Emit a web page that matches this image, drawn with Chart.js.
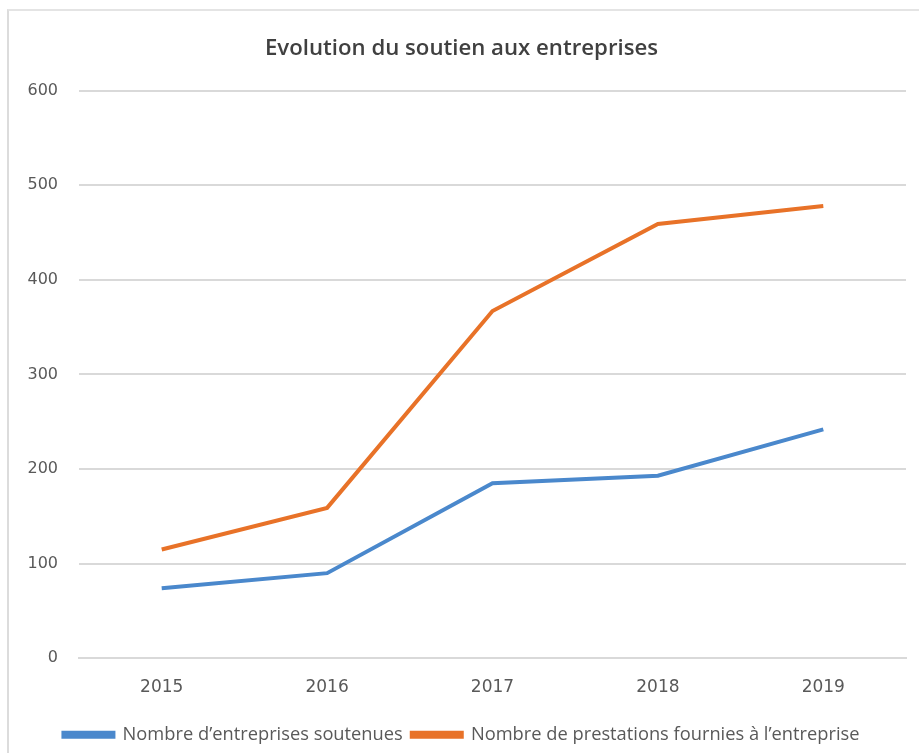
<!DOCTYPE html>
<html>
<head>
<meta charset="utf-8">
<script src="https://cdn.jsdelivr.net/npm/chart.js@4"></script>
<style>
  html, body { margin: 0; padding: 0; background: #fff; overflow: hidden; }
  #frame {
    position: absolute; left: 7px; top: 9px;
    width: 930px; height: 760px;
    border-left: 2px solid #dcdcdc; border-top: 2px solid #e4e4e4;
    background: #fff;
  }
  #chart-box { position: absolute; left: 0; top: 0; width: 922px; height: 743px; }
</style>
</head>
<body>
<div id="frame">
  <div id="chart-box"><canvas id="evolution"></canvas></div>
</div>
<script>
const years = ["2015", "2016", "2017", "2018", "2019"];
const entreprisesSoutenues = [74, 90, 185, 193, 242];
const prestationsFournies = [115, 159, 367, 459, 478];
const yTicks = [0, 100, 200, 300, 400, 500, 600];

const blue = "rgb(74, 136, 204)";
const orange = "rgb(232, 114, 40)";
const fontFamily = "'Open Sans', 'Noto Sans', sans-serif";
const tickFamily = "'DejaVu Sans', sans-serif";

const evolutionChartElement = document.getElementById("evolution");

new Chart(evolutionChartElement, {
  type: "line",
  data: {
    labels: years,
    datasets: [
      {
        label: "Nombre d\u2019entreprises soutenues",
        data: entreprisesSoutenues,
        borderColor: blue,
        backgroundColor: blue,
        borderWidth: 4,
        pointRadius: 0,
        tension: 0,
      },
      {
        label: "Nombre de prestations fournies \u00e0 l\u2019entreprise",
        data: prestationsFournies,
        borderColor: orange,
        backgroundColor: orange,
        borderWidth: 4,
        pointRadius: 0,
        tension: 0,
      },
    ],
  },
  options: {
    responsive: true,
    maintainAspectRatio: false,
    animation: false,
    layout: { padding: { left: 8, right: 25, top: 0, bottom: 0 } },
    plugins: {
      title: {
        display: true,
        text: "Evolution du soutien aux entreprises",
        color: "#404040",
        font: { family: fontFamily, size: 22.2, weight: "600" },
        padding: { top: 24, bottom: 29 },
      },
      legend: {
        position: "bottom",
        labels: {
          color: "#595959",
          font: { family: fontFamily, size: 18.3 },
          boxWidth: 50,
          boxHeight: 4,
          padding: 9,
        },
      },
      tooltip: { enabled: false },
    },
    scales: {
      x: {
        offset: true,
        grid: { display: false, drawTicks: false },
        border: { display: true, color: "#d9d9d9", width: 2 },
        ticks: {
          color: "#595959",
          font: { family: tickFamily, size: 17 },
          padding: 19,
        },
      },
      y: {
        min: 0,
        max: 600,
        afterBuildTicks: scale => {
          scale.ticks = yTicks.map(v => ({ value: v }));
        },
        afterFit: scale => {
          scale.width = 62;
        },
        grid: { color: "#d9d9d9", lineWidth: 2, drawTicks: false },
        border: { display: false },
        ticks: {
          color: "#595959",
          font: { family: tickFamily, size: 16 },
          padding: 21,
        },
      },
    },
  },
});
</script>
</body>
</html>
